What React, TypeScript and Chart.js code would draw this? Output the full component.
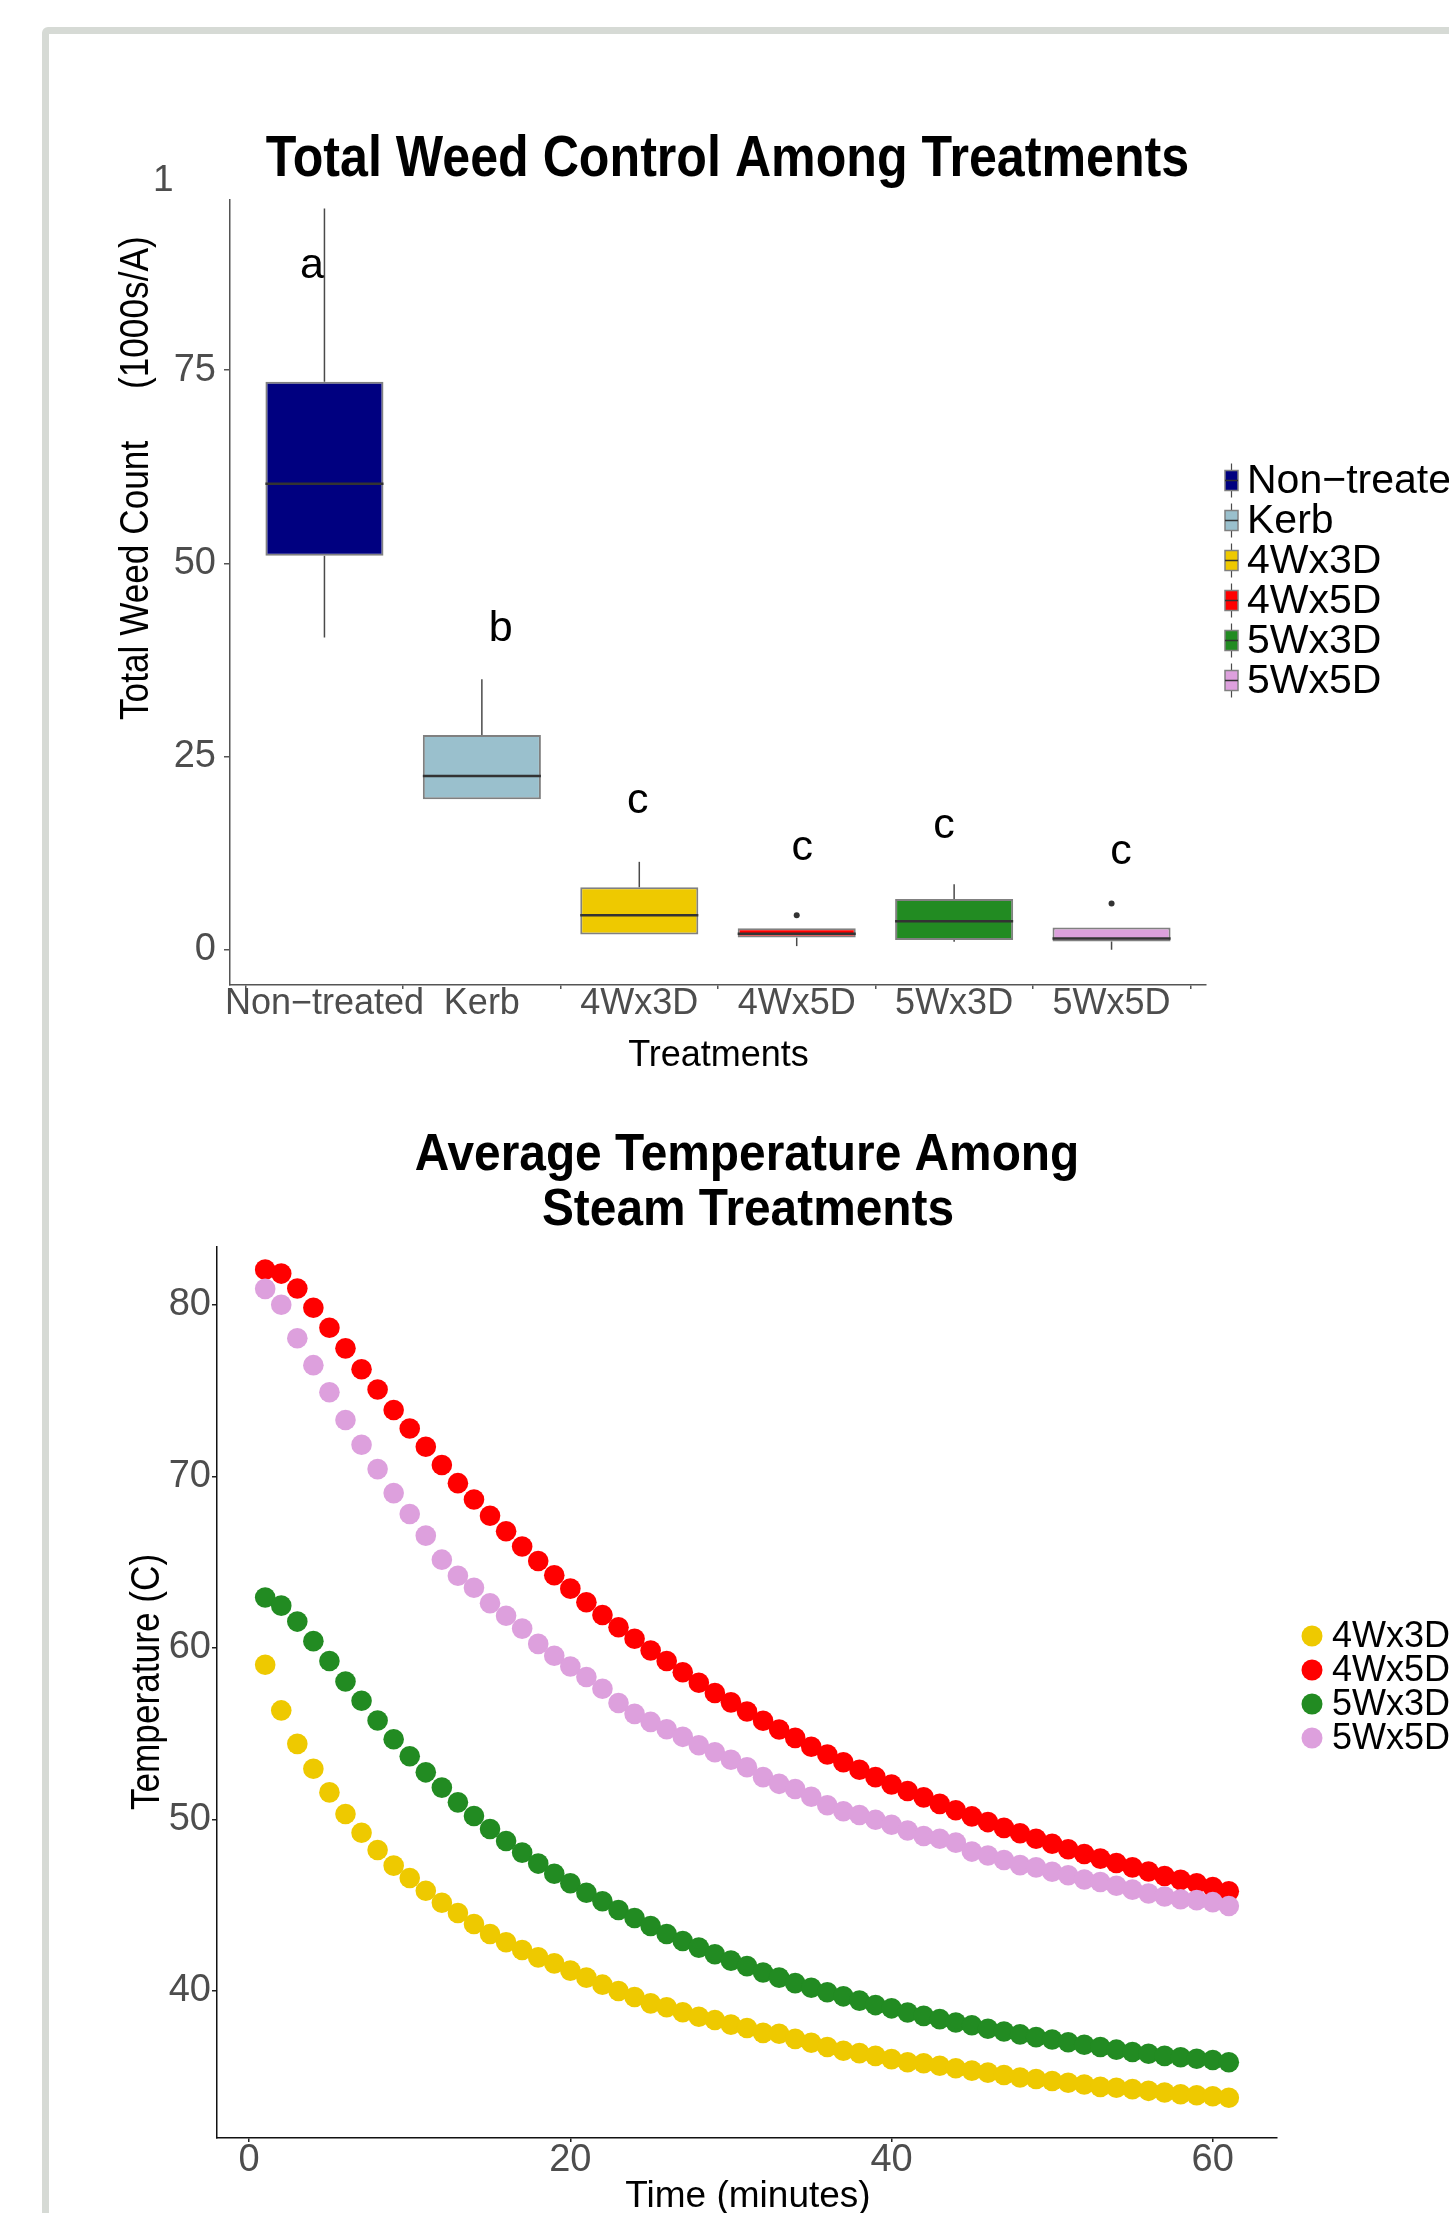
import React, { useEffect, useRef } from 'react';
import { Chart, registerables } from 'chart.js';

Chart.register(...registerables);

const FONT = '"Liberation Sans", Arial, Helvetica, sans-serif';

// ---------- Top chart data (weed counts, 1000s/A) ----------
const treatments = ['Non\u2212treated', 'Kerb', '4Wx3D', '4Wx5D', '5Wx3D', '5Wx5D'];
const boxColors = ['#000080', '#9ac0cd', '#eec900', '#ff0000', '#228b22', '#dda0dd'];
const whiskerLow = [40.4, 19.5, 2.0, 0.5, 1.06, 0.03];
const quart1 = [51.0, 19.5, 2.0, 1.6, 1.3, 1.1];
const medians = [60.3, 22.5, 4.5, 2.1, 3.7, 1.5];
const quart3 = [73.5, 27.8, 8.1, 2.8, 6.6, 2.9];
const whiskerHigh = [95.9, 35.0, 11.4, 2.8, 8.5, 2.9];
const outlierGroup = [4, 6];
const outlierValue = [4.5, 6.0];
const groupLetters = ['a', 'b', 'c', 'c', 'c', 'c'];
const letterValue = [86.9, 39.9, 17.67, 11.58, 14.45, 11.15];
const letterShift = [-0.08, 0.12, -0.01, 0.035, -0.065, 0.06];
const weedTicks = [0, 25, 50, 75];

// ---------- Bottom chart data (temperature, C) ----------
const minutes = [
  1, 2, 3, 4, 5, 6, 7, 8, 9, 10, 11, 12, 13, 14, 15, 16, 17, 18, 19, 20,
  21, 22, 23, 24, 25, 26, 27, 28, 29, 30, 31, 32, 33, 34, 35, 36, 37, 38, 39, 40,
  41, 42, 43, 44, 45, 46, 47, 48, 49, 50, 51, 52, 53, 54, 55, 56, 57, 58, 59, 60, 61,
];
const temp4Wx3D = [
  59.02, 56.36, 54.41, 52.96, 51.58, 50.32, 49.23, 48.22, 47.31, 46.59,
  45.85, 45.15, 44.55, 43.91, 43.32, 42.84, 42.39, 41.96, 41.61, 41.19,
  40.78, 40.37, 40.0, 39.65, 39.28, 39.05, 38.76, 38.5, 38.31, 38.04,
  37.84, 37.56, 37.51, 37.21, 36.98, 36.74, 36.52, 36.38, 36.22, 36.03,
  35.85, 35.79, 35.64, 35.5, 35.36, 35.24, 35.1, 34.96, 34.87, 34.75,
  34.65, 34.55, 34.41, 34.36, 34.28, 34.18, 34.08, 33.98, 33.92, 33.86, 33.78,
];
const temp4Wx5D = [
  82.06, 81.83, 80.96, 79.84, 78.67, 77.47, 76.25, 75.07, 73.88, 72.8,
  71.73, 70.67, 69.61, 68.66, 67.71, 66.81, 65.92, 65.07, 64.24, 63.46,
  62.67, 61.92, 61.21, 60.54, 59.85, 59.24, 58.59, 57.97, 57.38, 56.83,
  56.3, 55.76, 55.25, 54.76, 54.24, 53.79, 53.34, 52.9, 52.47, 52.04,
  51.66, 51.29, 50.91, 50.54, 50.18, 49.85, 49.51, 49.2, 48.88, 48.59,
  48.27, 47.99, 47.72, 47.46, 47.21, 46.97, 46.71, 46.48, 46.28, 46.06, 45.81,
];
const temp5Wx3D = [
  62.94, 62.47, 61.54, 60.4, 59.24, 58.05, 56.92, 55.77, 54.68, 53.69,
  52.75, 51.86, 51.0, 50.2, 49.45, 48.75, 48.07, 47.43, 46.84, 46.28,
  45.73, 45.23, 44.72, 44.26, 43.79, 43.32, 42.92, 42.53, 42.14, 41.77,
  41.45, 41.08, 40.78, 40.46, 40.19, 39.93, 39.69, 39.44, 39.18, 38.99,
  38.75, 38.55, 38.36, 38.16, 38.0, 37.8, 37.64, 37.47, 37.31, 37.17,
  37.01, 36.87, 36.74, 36.58, 36.44, 36.34, 36.22, 36.14, 36.05, 35.98, 35.85,
];
const temp5Wx5D = [
  80.94, 80.01, 78.06, 76.49, 74.91, 73.29, 71.85, 70.43, 69.03, 67.81,
  66.55, 65.15, 64.21, 63.51, 62.61, 61.88, 61.13, 60.24, 59.55, 58.92,
  58.31, 57.62, 56.79, 56.16, 55.69, 55.26, 54.82, 54.33, 53.92, 53.48,
  53.05, 52.47, 52.08, 51.78, 51.33, 50.83, 50.48, 50.26, 49.99, 49.69,
  49.36, 49.04, 48.88, 48.65, 48.13, 47.9, 47.64, 47.34, 47.21, 46.95,
  46.75, 46.5, 46.36, 46.14, 45.91, 45.69, 45.51, 45.35, 45.3, 45.18, 44.96,
];
const steamLabels = ['4Wx3D', '4Wx5D', '5Wx3D', '5Wx5D'];
const steamColors = ['#eec900', '#ff0000', '#228b22', '#dda0dd'];
const steamSeries = [temp4Wx3D, temp4Wx5D, temp5Wx3D, temp5Wx5D];
const timeTicks = [0, 20, 40, 60];
const tempTicks = [40, 50, 60, 70, 80];

// ---------- layout ----------
const W = 1449;
const H1 = 1090;
const H2 = 1123;
const TOP2 = 1090;

function drawText(
  ctx: CanvasRenderingContext2D,
  text: string,
  x: number,
  y: number,
  o: { size: number; weight?: string; color?: string; align?: CanvasTextAlign; baseline?: CanvasTextBaseline; sx?: number; rot?: number }
) {
  ctx.save();
  ctx.translate(x, y);
  if (o.rot) ctx.rotate(o.rot);
  ctx.scale(o.sx ?? 1, 1);
  ctx.font = `${o.weight ?? 'normal'} ${o.size}px ${FONT}`;
  ctx.fillStyle = o.color ?? '#000';
  ctx.textAlign = o.align ?? 'left';
  ctx.textBaseline = o.baseline ?? 'alphabetic';
  ctx.fillText(text, 0, 0);
  ctx.restore();
}

const boxPlugin = {
  id: 'boxExtras',
  beforeDatasetsDraw(chart: any) {
    const { ctx, scales } = chart;
    const xs = scales.x;
    const ys = scales.y;
    ctx.save();
    ctx.strokeStyle = '#4a4a4a';
    ctx.lineWidth = 1.5;
    treatments.forEach((_, i) => {
      const xc = xs.getPixelForValue(i + 1);
      ctx.beginPath();
      ctx.moveTo(xc, ys.getPixelForValue(quart3[i]));
      ctx.lineTo(xc, ys.getPixelForValue(whiskerHigh[i]));
      ctx.moveTo(xc, ys.getPixelForValue(quart1[i]));
      ctx.lineTo(xc, ys.getPixelForValue(whiskerLow[i]));
      ctx.stroke();
    });
    ctx.restore();
  },
  afterDatasetsDraw(chart: any) {
    const { ctx, scales } = chart;
    const xs = scales.x;
    const ys = scales.y;
    const unit = xs.getPixelForValue(2) - xs.getPixelForValue(1);
    ctx.save();
    ctx.strokeStyle = '#333333';
    ctx.lineWidth = 2.5;
    treatments.forEach((_, i) => {
      const xc = xs.getPixelForValue(i + 1);
      const y = ys.getPixelForValue(medians[i]);
      ctx.beginPath();
      ctx.moveTo(xc - unit * 0.375, y);
      ctx.lineTo(xc + unit * 0.375, y);
      ctx.stroke();
    });
    ctx.restore();
  },
  afterDraw(chart: any) {
    const { ctx, scales } = chart;
    const xs = scales.x;
    const ys = scales.y;
    groupLetters.forEach((l, i) => {
      drawText(ctx, l, xs.getPixelForValue(i + 1 + letterShift[i]), ys.getPixelForValue(letterValue[i]), {
        size: 43,
        align: 'center',
      });
    });
    drawText(ctx, 'Total Weed Control Among Treatments', 727.5, 176, { size: 57, weight: 'bold', align: 'center', sx: 0.88 });
    drawText(ctx, '1', 153, 191, { size: 37, color: '#4d4d4d' });
    drawText(ctx, 'Total Weed Count', 148, 720, { size: 40, rot: -Math.PI / 2, sx: 0.88 });
    drawText(ctx, '(1000s/A)', 148, 389, { size: 40, rot: -Math.PI / 2, sx: 0.88 });
    drawText(ctx, 'Treatments', 718.5, 1065.5, { size: 36, align: 'center' });
    treatments.forEach((t, i) => {
      const cy = 480.5 + i * 40;
      const x0 = 1225;
      const kw = 13;
      ctx.save();
      ctx.strokeStyle = '#4a4a4a';
      ctx.lineWidth = 1.2;
      ctx.beginPath();
      ctx.moveTo(x0 + kw / 2, cy - 17);
      ctx.lineTo(x0 + kw / 2, cy + 17);
      ctx.stroke();
      ctx.fillStyle = boxColors[i];
      ctx.fillRect(x0, cy - 10, kw, 20);
      ctx.strokeStyle = '#808080';
      ctx.lineWidth = 1.5;
      ctx.strokeRect(x0, cy - 10, kw, 20);
      ctx.strokeStyle = '#333';
      ctx.beginPath();
      ctx.moveTo(x0, cy);
      ctx.lineTo(x0 + kw, cy);
      ctx.stroke();
      ctx.restore();
      drawText(ctx, t, 1247, cy + 1, { size: 41, baseline: 'middle' });
    });
  },
};

const tempPlugin = {
  id: 'tempExtras',
  afterDraw(chart: any) {
    const { ctx } = chart;
    drawText(ctx, 'Average Temperature Among', 747, 1170 - TOP2, { size: 52, weight: 'bold', align: 'center', sx: 0.92 });
    drawText(ctx, 'Steam Treatments', 748, 1225 - TOP2, { size: 52, weight: 'bold', align: 'center', sx: 0.92 });
    drawText(ctx, 'Temperature (C)', 159, 1682 - TOP2, { size: 40, rot: -Math.PI / 2, sx: 0.88, align: 'center' });
    drawText(ctx, 'Time (minutes)', 748, 2207 - TOP2, { size: 37, align: 'center' });
    steamLabels.forEach((l, i) => {
      const cy = 1636 + i * 34 - TOP2;
      ctx.save();
      ctx.fillStyle = steamColors[i];
      ctx.beginPath();
      ctx.arc(1312, cy, 10.5, 0, Math.PI * 2);
      ctx.fill();
      ctx.restore();
      drawText(ctx, l, 1332, cy + 1, { size: 36, baseline: 'middle' });
    });
  },
};

export default function App() {
  const ref1 = useRef<HTMLCanvasElement>(null);
  const ref2 = useRef<HTMLCanvasElement>(null);

  useEffect(() => {
    document.body.style.margin = '0';
    document.body.style.overflow = 'hidden';
    const yTickFont = { family: FONT, size: 38, lineHeight: 1 };
    const xTickFont1 = { family: FONT, size: 36, lineHeight: 1 };

    const c1 = new Chart(ref1.current as HTMLCanvasElement, {
      type: 'bar',
      data: {
        datasets: [
          {
            type: 'bar',
            data: treatments.map((_, i) => ({ x: i + 1, y: [quart1[i], quart3[i]] })) as any,
            backgroundColor: boxColors,
            borderColor: '#808080',
            borderWidth: 2,
            borderSkipped: false,
            categoryPercentage: 1,
            barPercentage: 0.75,
            order: 2,
          } as any,
          {
            type: 'scatter',
            data: outlierGroup.map((g, i) => ({ x: g, y: outlierValue[i] })),
            pointRadius: 3,
            backgroundColor: '#333333',
            borderWidth: 0,
            order: 1,
          } as any,
        ],
      },
      options: {
        responsive: false,
        animation: false,
        devicePixelRatio: 1,
        events: [],
        layout: { padding: { left: 0, top: 200, right: W - 1206, bottom: 0 } },
        plugins: { legend: { display: false }, tooltip: { enabled: false }, title: { display: false } },
        scales: {
          x: {
            type: 'linear',
            min: 0.4,
            max: 6.6,
            offset: false,
            afterBuildTicks: (s: any) => {
              s.ticks = treatments.map((_, i) => ({ value: i + 1 }));
            },
            afterFit: (s: any) => {
              s.height = H1 - 985;
            },
            grid: { display: true, drawOnChartArea: false, drawTicks: true, tickLength: 4, color: '#555', lineWidth: 1.5 },
            border: { display: true, color: '#555', width: 1.5 },
            ticks: {
              callback: (v: any) => treatments[Math.round(Number(v)) - 1] ?? '',
              font: xTickFont1,
              color: '#4d4d4d',
              padding: -3,
              maxRotation: 0,
              autoSkip: false,
            },
          },
          y: {
            type: 'linear',
            min: -4.53,
            max: 97,
            afterBuildTicks: (s: any) => {
              s.ticks = weedTicks.map((v) => ({ value: v }));
            },
            afterFit: (s: any) => {
              s.width = 230;
            },
            grid: { display: true, drawOnChartArea: false, drawTicks: true, tickLength: 6, color: '#555', lineWidth: 1.5 },
            border: { display: true, color: '#555', width: 1.5 },
            ticks: { font: yTickFont, color: '#4d4d4d', padding: 8 },
          },
        },
      } as any,
      plugins: [boxPlugin],
    });

    const order = [4, 3, 2, 1];
    const c2 = new Chart(ref2.current as HTMLCanvasElement, {
      type: 'scatter',
      data: {
        datasets: steamSeries.map((vals, k) => ({
          label: steamLabels[k],
          data: minutes.map((m, i) => ({ x: m, y: vals[i] })),
          backgroundColor: steamColors[k],
          borderWidth: 0,
          pointRadius: 10.3,
          pointHoverRadius: 10.3,
          order: order[k],
        })),
      },
      options: {
        responsive: false,
        animation: false,
        devicePixelRatio: 1,
        events: [],
        layout: { padding: { left: 0, top: 1247 - TOP2, right: W - 1277, bottom: 0 } },
        plugins: { legend: { display: false }, tooltip: { enabled: false }, title: { display: false } },
        scales: {
          x: {
            type: 'linear',
            min: -2,
            max: 64,
            afterBuildTicks: (s: any) => {
              s.ticks = timeTicks.map((v) => ({ value: v }));
            },
            afterFit: (s: any) => {
              s.height = H2 - (2138 - TOP2);
            },
            grid: { display: true, drawOnChartArea: false, drawTicks: true, tickLength: 4, color: '#222', lineWidth: 1.5 },
            border: { display: true, color: '#111', width: 1.5 },
            ticks: { font: yTickFont, color: '#4d4d4d', padding: 0, maxRotation: 0 },
          },
          y: {
            type: 'linear',
            min: 31.43,
            max: 83.38,
            afterBuildTicks: (s: any) => {
              s.ticks = tempTicks.map((v) => ({ value: v }));
            },
            afterFit: (s: any) => {
              s.width = 217;
            },
            grid: { display: true, drawOnChartArea: false, drawTicks: true, tickLength: 5, color: '#222', lineWidth: 1.5 },
            border: { display: true, color: '#111', width: 1.5 },
            ticks: { font: yTickFont, color: '#4d4d4d', padding: 1 },
          },
        },
      } as any,
      plugins: [tempPlugin],
    });

    return () => {
      c1.destroy();
      c2.destroy();
    };
  }, []);

  return (
    <div style={{ position: 'relative', width: W, height: 2213, overflow: 'hidden', background: '#fff' }}>
      <div
        style={{
          position: 'absolute',
          left: 42,
          top: 27,
          width: 1500,
          height: 2300,
          border: '7px solid #d6dad5',
          borderTopLeftRadius: 6,
          boxSizing: 'border-box',
        }}
      />
      <canvas ref={ref1} width={W} height={H1} style={{ position: 'absolute', left: 0, top: 0 }} />
      <canvas ref={ref2} width={W} height={H2} style={{ position: 'absolute', left: 0, top: TOP2 }} />
    </div>
  );
}
